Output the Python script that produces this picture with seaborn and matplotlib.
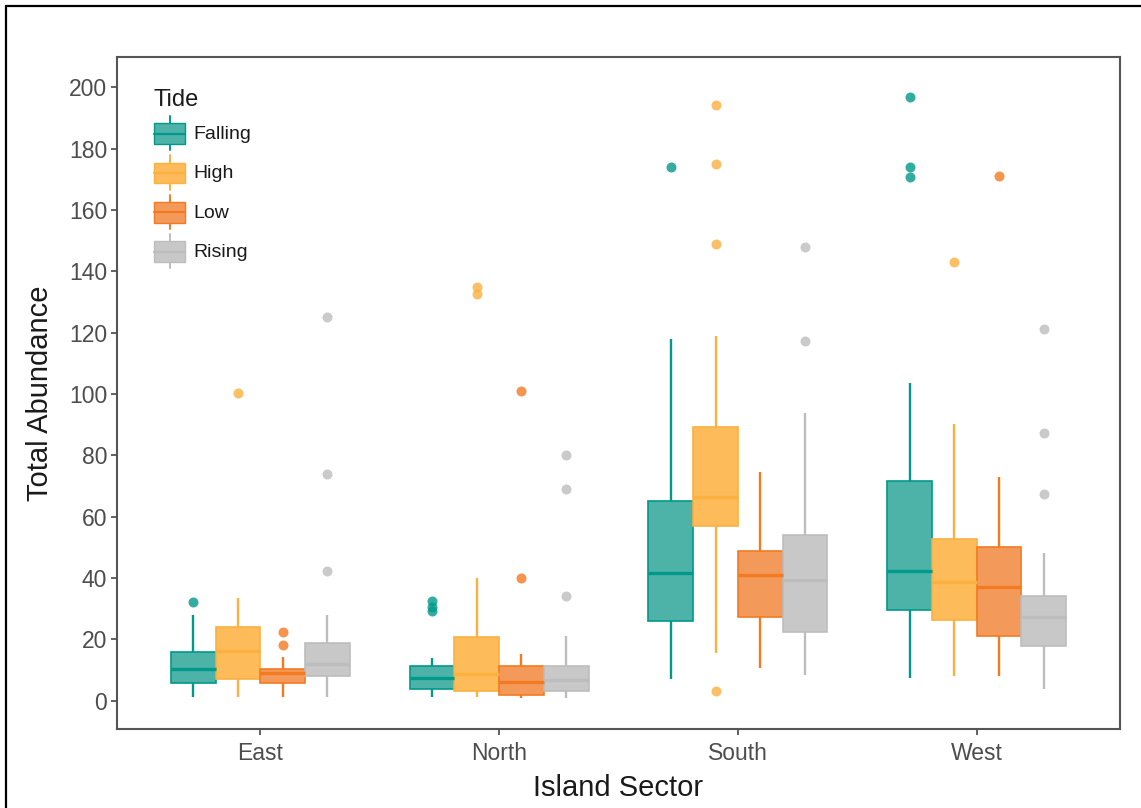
import numpy as np
import pandas as pd
import matplotlib
matplotlib.use("Agg")
import matplotlib.pyplot as plt
import seaborn as sns
from matplotlib.legend_handler import HandlerBase
from matplotlib.patches import Rectangle, Patch
from matplotlib.lines import Line2D

# ---- data -------------------------------------------------------------
sectors = ["East", "North", "South", "West"]
tides = ["Falling", "High", "Low", "Rising"]

# Five-number summaries per tide: [lower whisker, Q1, median, Q3, upper whisker]
east_stats = [[1.3, 5.7, 10.4, 15.8, 27.9],
              [1.3, 7.0, 16.3, 24.1, 33.4],
              [1.2, 5.9, 8.9, 10.2, 14.3],
              [1.2, 8.0, 11.9, 18.7, 27.9]]
north_stats = [[1.2, 4.0, 7.3, 11.4, 14.1],
               [1.2, 3.3, 8.7, 20.7, 39.9],
               [1.0, 1.9, 6.0, 11.3, 15.1],
               [1.0, 3.3, 6.8, 11.3, 21.2]]
south_stats = [[7.1, 26.0, 41.7, 65.3, 117.8],
               [15.5, 57.0, 66.3, 89.3, 118.9],
               [10.6, 27.4, 40.9, 48.9, 74.7],
               [8.4, 22.3, 39.4, 54.0, 93.7]]
west_stats = [[7.3, 29.6, 42.4, 71.6, 103.7],
              [8.2, 26.5, 38.7, 52.9, 90.2],
              [8.2, 21.1, 37.2, 50.2, 73.0],
              [4.0, 17.9, 27.4, 34.1, 48.1]]

# Outlying observations per tide
east_outliers = [[32.3], [100.2], [18.2, 22.3], [42.3, 74.1, 125.0]]
north_outliers = [[29.2, 30.5, 32.5], [132.5, 135.0], [40.1, 101.1], [34.1, 69.0, 80.1]]
south_outliers = [[173.9], [3.2, 149.0, 175.0, 194.2], [], [117.2, 148.0]]
west_outliers = [[170.8, 173.9, 197.0], [143.0], [171.0], [67.3, 87.2, 121.3]]

stats_by_sector = dict(zip(sectors, [east_stats, north_stats, south_stats, west_stats]))
outliers_by_sector = dict(zip(sectors, [east_outliers, north_outliers, south_outliers, west_outliers]))

fill_colors = ["#4DB3A9", "#FDBB5A", "#F39A5B", "#C8C8C8"]
line_colors = ["#00998A", "#FBB040", "#F47A22", "#BDBDBD"]

# Each summary value is weighted equally so the quartiles and whisker ends
# computed by seaborn reproduce the summary; outliers are added once each.
REPS = 20
rows = []
for sector in sectors:
    for tide, summary, extra in zip(tides, stats_by_sector[sector], outliers_by_sector[sector]):
        for v in np.repeat(summary, REPS):
            rows.append((sector, tide, v))
        for v in extra:
            rows.append((sector, tide, v))
df = pd.DataFrame(rows, columns=["Sector", "Tide", "Abundance"])

# ---- style ------------------------------------------------------------
sns.set_theme(style="white")
plt.rcParams["font.family"] = ["Liberation Sans", "DejaVu Sans"]

W, H = 1141, 808
fig = plt.figure(figsize=(W / 100, H / 100), dpi=100)
ax = fig.add_axes([117 / W, 1 - 729 / H, (1120 - 117) / W, (729 - 57) / H])

sns.boxplot(
    data=df, x="Sector", y="Abundance", hue="Tide",
    order=sectors, hue_order=tides, palette=fill_colors,
    width=0.75, gap=0, whis=1.5, showcaps=False, linewidth=1.2,
    flierprops=dict(marker="o", markersize=7.2, markeredgewidth=0),
    legend=False, ax=ax,
)

# per-tide line colours for boxes, whiskers, medians and outliers
for cont, fc, lc in zip(ax.containers, fill_colors, line_colors):
    for b in cont.boxes:
        b.set_facecolor(fc)
        b.set_edgecolor(lc)
        b.set_linewidth(1.2)
    for w in cont.whiskers:
        w.set_color(lc)
        w.set_linewidth(1.7)
    for m in cont.medians:
        m.set_color(lc)
        m.set_linewidth(2.4)
    for f in cont.fliers:
        f.set_markerfacecolor(lc)
        f.set_markeredgecolor(lc)
        f.set_alpha(0.8)

ax.set_xlim(-0.6, 3.6)
ax.set_ylim(-9.2, 209.9)
ax.set_yticks(np.arange(0, 201, 20))

spine_col = "#555555"
for s in ax.spines.values():
    s.set_visible(True)
    s.set_color(spine_col)
    s.set_linewidth(1.5)
ax.tick_params(axis="both", which="major", bottom=True, left=True, direction="out",
               length=4, width=1.3, color=spine_col, labelcolor="#4D4D4D",
               labelsize=16.5, pad=3)
ax.tick_params(axis="x", pad=5)

ax.set_xlabel("Island Sector", fontsize=21, color="#1A1A1A", labelpad=7)
ax.set_ylabel("Total Abundance", fontsize=21, color="#1A1A1A", labelpad=11)


# ---- legend with box-shaped keys -------------------------------------
class BoxKey(HandlerBase):
    def create_artists(self, legend, orig, xd, yd, w, h, fs, trans):
        fc = orig.get_facecolor()
        ec = orig.get_edgecolor()
        x0, y0 = -xd, -yd
        cx = x0 + w / 2
        whisk = Line2D([cx, cx], [y0, y0 + h], color=ec, lw=1.4, transform=trans)
        box = Rectangle((x0, y0 + 0.18 * h), w, 0.6 * h, facecolor=fc,
                        edgecolor=ec, lw=1.0, transform=trans)
        med = Line2D([x0, x0 + w], [y0 + 0.48 * h] * 2, color=ec, lw=1.6, transform=trans)
        return [whisk, box, med]


handles = [Patch(facecolor=fc, edgecolor=lc) for fc, lc in zip(fill_colors, line_colors)]
leg = ax.legend(
    handles, tides, title="Tide", loc="upper left",
    bbox_to_anchor=(154 / W, 1 - 89 / H), bbox_transform=fig.transFigure,
    frameon=False, fontsize=14, title_fontsize=17,
    handlelength=1.6, handleheight=2.35, labelspacing=0.25, handletextpad=0.45,
    borderpad=0, borderaxespad=0,
    handler_map={Patch: BoxKey()}, alignment="left",
)
leg.get_title().set_color("#1A1A1A")
for t in leg.get_texts():
    t.set_color("#1A1A1A")

# outer frame around the figure
fig.add_artist(Line2D([6 / W, 1.0], [1 - 6 / H] * 2, color="black", lw=1.6,
                      transform=fig.transFigure))
fig.add_artist(Line2D([6 / W] * 2, [0.0, 1 - 6 / H], color="black", lw=1.6,
                      transform=fig.transFigure))

fig.savefig("out.png", dpi=100)
